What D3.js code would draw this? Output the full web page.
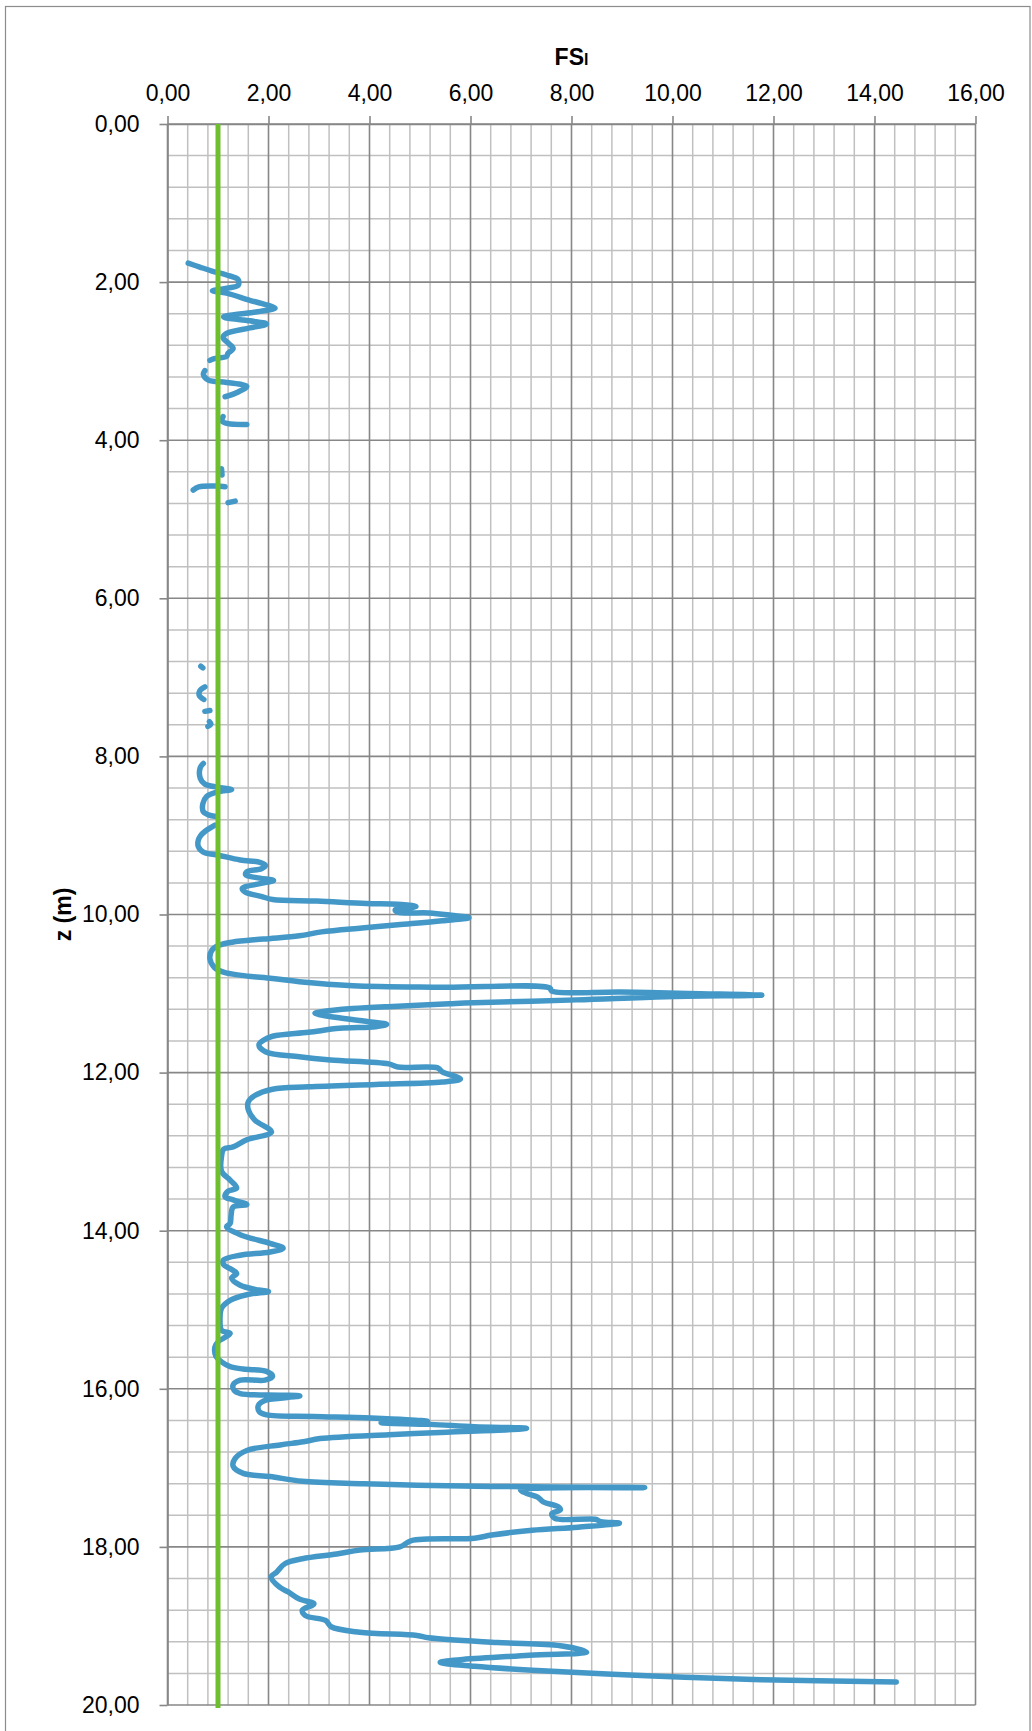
<!DOCTYPE html>
<html>
<head>
<meta charset="utf-8">
<script src="https://cdn.jsdelivr.net/npm/d3@7"></script>
<style>
  html, body { margin: 0; padding: 0; background: #fff; }
  svg { display: block; }
  text { font-family: "Liberation Sans", Arial, sans-serif; fill: #000; }
</style>
</head>
<body>
<script>
// Factor of safety against liquefaction (FSl) versus depth z (m).
// null entries split the profile into separate segments.
const depth = [
  1.76, 1.81, 1.86, 1.91, 1.97, 2.04, 2.08, 2.11, 2.14, 2.23, 2.27, 2.33, 2.37, 2.44, 2.49, 2.53, 2.58, 2.65, 2.70, 2.77, 2.84, 2.90, 2.94, 2.97, 2.99, null,
  3.12, 3.17, 3.24, 3.27, 3.32, 3.39, 3.44, 3.45, null,
  3.70, 3.76, 3.79, 3.80, null,
  4.36, 4.44, null,
  4.63, 4.59, 4.58, 4.59, null,
  4.79, 4.77, null,
  6.86, 6.88, null,
  7.12, 7.17, 7.23, 7.28, null,
  7.43, 7.42, null,
  7.56, 7.59, 7.62, null,
  8.09, 8.14, 8.28, 8.35, 8.39, 8.42, 8.45, 8.51, 8.60, 8.70, 8.74, 8.76, null,
  8.87, 8.95, 9.00, 9.06, 9.14, 9.21, 9.25, 9.31, 9.34, 9.38, 9.42, 9.46, 9.50, 9.54, 9.57, 9.61, 9.67, 9.72, 9.77, 9.81,
  9.83, 9.86, 9.87, 9.90, 9.94, 9.97, 9.98, 10.01, 10.04, 10.08, 10.13, 10.17, 10.22, 10.27, 10.31, 10.35, 10.39, 10.45, 10.56, 10.67,
  10.73, 10.77, 10.81, 10.85, 10.90, 10.92, 10.93, 10.97, 10.98, 11.00, 11.02, 11.04, 11.08, 11.12, 11.13, 11.16, 11.19, 11.23, 11.25, 11.30,
  11.36, 11.39, 11.42, 11.44, 11.49, 11.54, 11.59, 11.65, 11.74, 11.80, 11.84, 11.89, 11.93, 11.94, 11.99, 12.08, 12.12, 12.15, 12.18, 12.21,
  12.29, 12.37, 12.47, 12.60, 12.75, 12.85, 12.94, 12.97, 13.06, 13.25, 13.36, 13.46, 13.50, 13.57, 13.61, 13.67, 13.70, 13.80, 13.91, 13.95,
  14.05, 14.16, 14.22, 14.27, 14.31, 14.37, 14.43, 14.48, 14.54, 14.60, 14.69, 14.75, 14.77, 14.81, 14.88, 14.98, 15.13, 15.26, 15.30, 15.36,
  15.40, 15.47, 15.59, 15.66, 15.72, 15.75, 15.78, 15.84, 15.89, 15.89, 15.95, 16.02, 16.06, 16.08, 16.09, 16.12, 16.14, 16.21, 16.29, 16.33,
  16.35, 16.37, 16.41, 16.43, 16.45, 16.48, 16.50, 16.55, 16.58, 16.63, 16.67, 16.71, 16.78, 16.88, 16.98, 17.07, 17.11, 17.17, 17.20, 17.22,
  17.24, 17.25, 17.28, 17.32, 17.37, 17.43, 17.49, 17.53, 17.58, 17.64, 17.65, 17.68, 17.70, 17.75, 17.79, 17.85, 17.89, 17.92, 18.00, 18.04,
  18.09, 18.15, 18.21, 18.32, 18.38, 18.51, 18.57, 18.66, 18.72, 18.80, 18.87, 18.93, 19.01, 19.08, 19.12, 19.15, 19.21, 19.25, 19.33, 19.37,
  19.46, 19.51, 19.56, 19.63, 19.68, 19.71
];
const fsl = [
  0.41, 0.64, 0.88, 1.17, 1.40, 1.40, 1.15, 0.89, 1.17, 1.63, 1.86, 2.13, 1.83, 1.11, 1.63, 1.96, 1.63, 1.17, 1.10, 1.20, 1.30, 1.20, 1.17, 0.91, 0.84, null,
  0.74, 0.71, 0.81, 1.17, 1.57, 1.40, 1.20, 1.14, null,
  1.10, 1.08, 1.20, 1.57, null,
  1.07, 1.08, null,
  0.51, 0.62, 0.97, 1.14, null,
  1.20, 1.34, null,
  0.66, 0.70, null,
  0.74, 0.64, 0.63, 0.72, null,
  0.74, 0.84, null,
  0.83, 0.86, 0.80, null,
  0.71, 0.65, 0.65, 0.74, 0.99, 1.27, 0.99, 0.77, 0.70, 0.71, 0.81, 0.96, null,
  0.94, 0.74, 0.66, 0.61, 0.61, 0.71, 1.01, 1.44, 1.83, 1.94, 1.86, 1.57, 1.55, 1.83, 2.10, 1.83, 1.48, 1.55, 1.85, 2.08,
  2.96, 3.94, 4.56, 4.92, 4.51, 4.56, 5.18, 5.62, 5.97, 5.44, 4.56, 3.85, 3.05, 2.61, 1.90, 1.28, 1.02, 0.88, 0.84, 0.93,
  1.11, 1.46, 2.08, 2.61, 3.67, 5.44, 7.57, 7.61, 8.98, 10.31, 11.77, 9.87, 8.10, 5.88, 5.58, 4.56, 3.67, 3.05, 2.92, 3.32,
  4.03, 4.34, 4.12, 3.41, 2.79, 2.08, 1.90, 1.81, 1.95, 2.61, 3.23, 4.38, 4.56, 5.35, 5.44, 5.80, 5.44, 4.12, 2.79, 2.08,
  1.73, 1.60, 1.60, 1.73, 2.06, 1.57, 1.30, 1.11, 1.07, 1.07, 1.24, 1.37, 1.20, 1.14, 1.30, 1.57, 1.30, 1.26, 1.24, 1.17,
  1.44, 2.03, 2.29, 2.03, 1.44, 1.11, 1.11, 1.24, 1.37, 1.27, 1.44, 1.80, 2.00, 1.57, 1.24, 1.07, 1.04, 1.07, 1.24, 1.11,
  1.01, 0.94, 0.96, 1.07, 1.24, 1.50, 1.96, 2.08, 1.93, 1.44, 1.30, 1.32, 1.44, 2.23, 2.62, 2.23, 1.96, 1.80, 1.82, 1.96,
  2.89, 4.03, 5.15, 4.23, 5.20, 6.08, 7.11, 5.53, 4.38, 3.02, 2.69, 2.23, 1.57, 1.34, 1.30, 1.50, 2.03, 2.67, 3.88, 4.94,
  7.16, 9.45, 6.99, 7.10, 7.33, 7.44, 7.73, 7.78, 7.61, 7.67, 8.47, 8.58, 8.95, 8.13, 7.22, 6.42, 6.08, 4.83, 4.60, 3.81,
  3.35, 2.67, 2.33, 2.16, 2.05, 2.22, 2.39, 2.61, 2.90, 2.67, 2.73, 3.13, 3.24, 3.81, 4.94, 5.17, 6.53, 7.78, 8.30, 7.16,
  5.40, 6.08, 7.22, 9.49, 11.76, 14.43
];

// Reference level FSl = 1
const fsLimit = 1;

// Axis ticks
const xMajorTicks = [0, 2, 4, 6, 8, 10, 12, 14, 16];
const yMajorTicks = [0, 2, 4, 6, 8, 10, 12, 14, 16, 18, 20];
const minorStep = 0.4;

const W = 1032, H = 1731;
const plot = { left: 167.5, right: 975.5, top: 124, bottom: 1705 };

const svg = d3.select("body").append("svg")
  .attr("width", W).attr("height", H);

// outer frame
svg.append("rect")
  .attr("x", 5.5).attr("y", 6.5)
  .attr("width", 1024.5).attr("height", 1800)
  .attr("fill", "#fff")
  .attr("stroke", "#8c8c8c").attr("stroke-width", 1.2);

const x = d3.scaleLinear().domain([0, 16]).range([plot.left, plot.right]);
const y = d3.scaleLinear().domain([0, 20]).range([plot.top, plot.bottom]);

const locale = d3.formatLocale({ decimal: ",", thousands: ".", grouping: [3], currency: ["", ""] });
const fmt = locale.format(".2f");

// minor grid
const isMajor = v => Math.abs(v / 2 - Math.round(v / 2)) < 1e-6;
const xMinor = d3.range(0, 16 + 1e-9, minorStep).filter(v => !isMajor(v));
const yMinor = d3.range(0, 20 + 1e-9, minorStep).filter(v => !isMajor(v));

const grid = svg.append("g");
grid.selectAll("line.vmin").data(xMinor).join("line")
  .attr("x1", d => x(d)).attr("x2", d => x(d))
  .attr("y1", plot.top).attr("y2", plot.bottom)
  .attr("stroke", "#c0c0c0").attr("stroke-width", 1.5);
grid.selectAll("line.hmin").data(yMinor).join("line")
  .attr("y1", d => y(d)).attr("y2", d => y(d))
  .attr("x1", plot.left).attr("x2", plot.right)
  .attr("stroke", "#c0c0c0").attr("stroke-width", 1.5);
grid.selectAll("line.vmaj").data(xMajorTicks).join("line")
  .attr("x1", d => x(d)).attr("x2", d => x(d))
  .attr("y1", plot.top).attr("y2", plot.bottom)
  .attr("stroke", "#878787").attr("stroke-width", 1.6);
grid.selectAll("line.hmaj").data(yMajorTicks).join("line")
  .attr("y1", d => y(d)).attr("y2", d => y(d))
  .attr("x1", plot.left).attr("x2", plot.right)
  .attr("stroke", "#878787").attr("stroke-width", 1.6);

// axes
const xAxis = svg.append("g")
  .attr("transform", `translate(0,${plot.top})`)
  .call(d3.axisTop(x).tickValues(xMajorTicks).tickFormat(fmt).tickSize(8).tickSizeOuter(0).tickPadding(15));
const yAxis = svg.append("g")
  .attr("transform", `translate(${plot.left},0)`)
  .call(d3.axisLeft(y).tickValues(yMajorTicks).tickFormat(fmt).tickSize(8).tickSizeOuter(0).tickPadding(20));

[xAxis, yAxis].forEach(g => {
  g.select(".domain").attr("stroke", "#878787").attr("stroke-width", 1.6);
  g.selectAll(".tick line").attr("stroke", "#878787").attr("stroke-width", 1.6);
  g.selectAll(".tick text")
    .attr("font-family", "'Liberation Sans', Arial, sans-serif")
    .attr("font-size", 23).attr("fill", "#000");
});

// FSl profile
const points = depth.map((z, i) => ({ z, v: fsl[i] }));
const line = d3.line()
  .defined(d => d.z != null && d.v != null)
  .x(d => x(d.v)).y(d => y(d.z))
  .curve(d3.curveCatmullRom.alpha(0.5));

svg.append("path")
  .datum(points)
  .attr("d", line)
  .attr("fill", "none")
  .attr("stroke", "#4398c8")
  .attr("stroke-width", 5.5)
  .attr("stroke-linejoin", "round")
  .attr("stroke-linecap", "round");

// FSl = 1 line
svg.append("line")
  .attr("x1", x(fsLimit)).attr("x2", x(fsLimit))
  .attr("y1", y(0)).attr("y2", y(20) + 3)
  .attr("stroke", "#6fbe2e").attr("stroke-width", 5);

// titles
const title = svg.append("text")
  .attr("x", (plot.left + plot.right) / 2).attr("y", 65)
  .attr("text-anchor", "middle")
  .attr("font-weight", "bold").attr("font-size", 23);
title.append("tspan").text("FS");
title.append("tspan").attr("font-size", 16).text("l");

svg.append("text")
  .attr("transform", `translate(63,${(plot.top + plot.bottom) / 2}) rotate(-90)`)
  .attr("text-anchor", "middle")
  .attr("dominant-baseline", "central")
  .attr("font-weight", "bold").attr("font-size", 23)
  .text("z (m)");
</script>
</body>
</html>
